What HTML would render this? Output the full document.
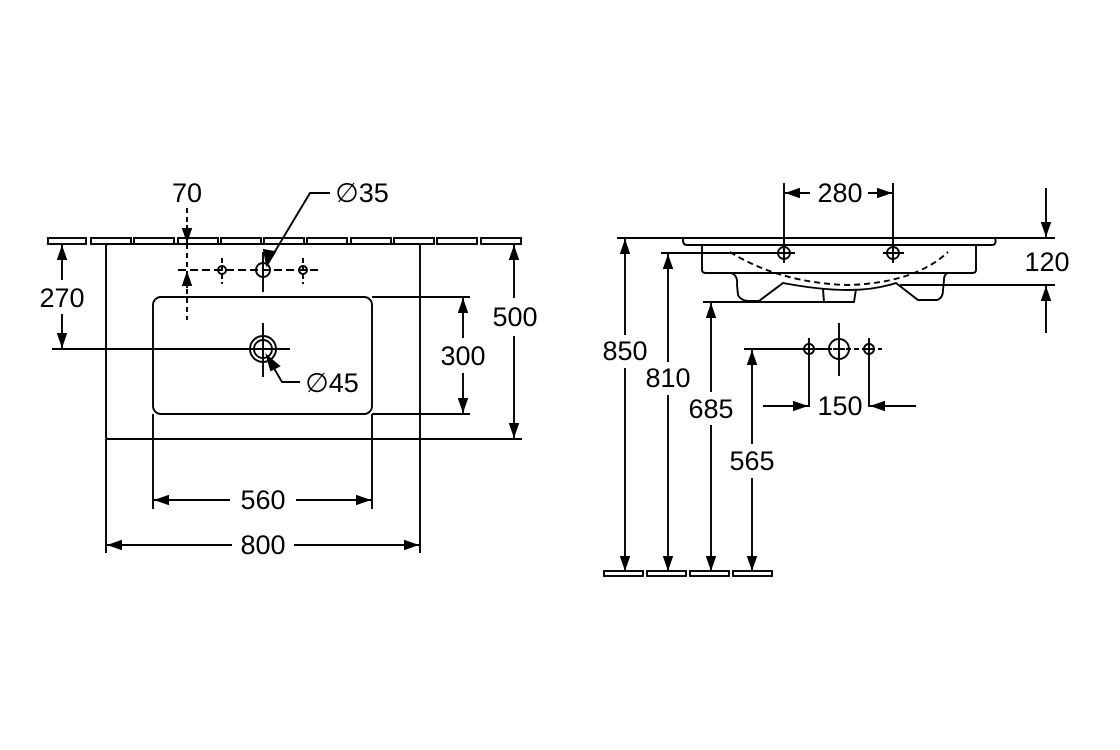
<!DOCTYPE html>
<html><head><meta charset="utf-8"><style>
html,body{margin:0;padding:0;background:#fff;}
svg{display:block;}
text{font-family:"Liberation Sans",sans-serif;font-size:27px;fill:#000;}
</style></head><body>
<svg width="1120" height="750" viewBox="0 0 1120 750" xmlns="http://www.w3.org/2000/svg">
<defs>
<marker id="a" viewBox="0 0 10 10" refX="10" refY="5" markerWidth="15" markerHeight="15" markerUnits="userSpaceOnUse" orient="auto"><path d="M0,1.5 L10,5 L0,8.5 Z" fill="#000"/></marker>
</defs>
<g fill="none" stroke="#000" stroke-width="1.9">
<g fill="#fff">
<rect x="48" y="238" width="38" height="6"/><rect x="91" y="238" width="40" height="6"/><rect x="134" y="238" width="40" height="6"/><rect x="178" y="238" width="40" height="6"/><rect x="221" y="238" width="40" height="6"/><rect x="264" y="238" width="40" height="6"/><rect x="307" y="238" width="40" height="6"/><rect x="351" y="238" width="40" height="6"/><rect x="394" y="238" width="40" height="6"/><rect x="437" y="238" width="40" height="6"/><rect x="481" y="238" width="40" height="6"/>
</g>
<rect x="106" y="244" width="314" height="195" rx="2"/>
<rect x="153" y="297" width="219" height="117" rx="8"/>
<line x1="178" y1="270" x2="320" y2="270" stroke-dasharray="8,4"/>
<circle cx="263" cy="270" r="7"/><line x1="263" y1="252" x2="263" y2="292"/>
<circle cx="222" cy="270" r="4"/><line x1="222" y1="258" x2="222" y2="284" stroke-dasharray="5,3"/>
<circle cx="303" cy="270" r="4"/><line x1="303" y1="258" x2="303" y2="284" stroke-dasharray="5,3"/>
<line x1="187" y1="208" x2="187" y2="320" stroke-dasharray="5,4"/>
<line x1="187" y1="225" x2="187" y2="243" marker-end="url(#a)"/>
<line x1="187" y1="288" x2="187" y2="271" marker-end="url(#a)"/>
<polyline points="330,193 310,193 268,263"/>
<path d="M275,252 L267,265 L264,250 Z" fill="#000"/>
<line x1="52" y1="349" x2="290" y2="349"/>
<line x1="263" y1="323" x2="263" y2="377"/>
<circle cx="263" cy="349" r="13"/><circle cx="263" cy="349" r="9"/>
<polyline points="300,382 282,382 268,358"/>
<path d="M267,356 L279,366 L271,370 Z" fill="#000"/>
<line x1="62" y1="280" x2="62" y2="245" marker-end="url(#a)"/>
<line x1="62" y1="314" x2="62" y2="348" marker-end="url(#a)"/>
<line x1="372" y1="297" x2="470" y2="297"/><line x1="372" y1="414" x2="470" y2="414"/>
<line x1="463" y1="338" x2="463" y2="298" marker-end="url(#a)"/>
<line x1="463" y1="373" x2="463" y2="413" marker-end="url(#a)"/>
<line x1="420" y1="439" x2="522" y2="439"/>
<line x1="514" y1="298" x2="514" y2="245" marker-end="url(#a)"/>
<line x1="514" y1="336" x2="514" y2="438" marker-end="url(#a)"/>
<line x1="153" y1="414" x2="153" y2="509"/><line x1="372" y1="414" x2="372" y2="509"/>
<line x1="230" y1="500" x2="154" y2="500" marker-end="url(#a)"/>
<line x1="296" y1="500" x2="371" y2="500" marker-end="url(#a)"/>
<line x1="106" y1="439" x2="106" y2="553"/><line x1="420" y1="439" x2="420" y2="553"/>
<line x1="232" y1="545" x2="107" y2="545" marker-end="url(#a)"/>
<line x1="294" y1="545" x2="419" y2="545" marker-end="url(#a)"/>

<line x1="617" y1="238" x2="1055" y2="238"/>
<path d="M683,238 L995,238 Q997,245 992,245 L687,245 Q683,245 683,240 Z"/>
<path d="M702,245 L702,270 Q702,273 706,273 L972,273 Q976,273 976,270 L976,245"/>
<path d="M731,273 Q738,275 737,285 L738,295 Q741,301 750,301 L759,301 L783,283 Q820,290 848,290 Q875,290 896,283 L918,300 L937,300 Q943,298 943,290 L944,280 Q944,274 948,273"/>
<path d="M823,289 L824,302 L854,302 L856,289"/>
<path d="M730,252 Q780,283 848,285 Q915,283 948,252" stroke-dasharray="6,4"/>
<circle cx="784" cy="253" r="6"/><line x1="774" y1="253" x2="795" y2="253"/><line x1="784" y1="183" x2="784" y2="263"/>
<circle cx="893" cy="253" r="6"/><line x1="883" y1="253" x2="904" y2="253"/><line x1="893" y1="183" x2="893" y2="263"/>
<line x1="810" y1="193" x2="785" y2="193" marker-end="url(#a)"/>
<line x1="868" y1="193" x2="892" y2="193" marker-end="url(#a)"/>
<line x1="1046" y1="188" x2="1046" y2="237" marker-end="url(#a)"/>
<line x1="900" y1="285" x2="1055" y2="285"/>
<line x1="1046" y1="333" x2="1046" y2="286" marker-end="url(#a)"/>
<line x1="625" y1="335" x2="625" y2="239" marker-end="url(#a)"/>
<line x1="625" y1="368" x2="625" y2="571" marker-end="url(#a)"/>
<line x1="661" y1="253" x2="780" y2="253"/>
<line x1="668" y1="362" x2="668" y2="254" marker-end="url(#a)"/>
<line x1="668" y1="395" x2="668" y2="571" marker-end="url(#a)"/>
<line x1="703" y1="302" x2="830" y2="302"/>
<line x1="711" y1="392" x2="711" y2="303" marker-end="url(#a)"/>
<line x1="711" y1="425" x2="711" y2="571" marker-end="url(#a)"/>
<line x1="744" y1="349" x2="832" y2="349"/>
<line x1="752" y1="444" x2="752" y2="350" marker-end="url(#a)"/>
<line x1="752" y1="478" x2="752" y2="571" marker-end="url(#a)"/>
<line x1="846" y1="349" x2="882" y2="349" stroke-dasharray="5,3"/>
<circle cx="809" cy="349" r="5"/><line x1="803" y1="349" x2="815" y2="349"/><line x1="809" y1="338" x2="809" y2="407"/>
<circle cx="839" cy="349" r="10"/><line x1="833" y1="349" x2="845" y2="349"/><line x1="839" y1="323" x2="839" y2="376"/>
<circle cx="869" cy="349" r="5"/><line x1="863" y1="349" x2="875" y2="349"/><line x1="869" y1="338" x2="869" y2="407"/>
<line x1="763" y1="406" x2="808" y2="406" marker-end="url(#a)"/>
<line x1="916" y1="406" x2="870" y2="406" marker-end="url(#a)"/>
<g fill="#fff">
<rect x="604" y="571" width="39" height="5"/><rect x="647" y="571" width="39" height="5"/><rect x="690" y="571" width="39" height="5"/><rect x="733" y="571" width="39" height="5"/>
</g>
</g>
<g text-anchor="middle">
<text x="187" y="202">70</text>
<text x="362" y="202">∅35</text>
<text x="332" y="392">∅45</text>
<text x="62" y="307">270</text>
<text x="463" y="365">300</text>
<text x="515" y="326">500</text>
<text x="263" y="509">560</text>
<text x="263" y="554">800</text>
<text x="840" y="202">280</text>
<text x="1047" y="271">120</text>
<text x="625" y="360">850</text>
<text x="668" y="387">810</text>
<text x="711" y="418">685</text>
<text x="752" y="470">565</text>
<text x="840" y="415">150</text>
</g>
</svg>
</body></html>
